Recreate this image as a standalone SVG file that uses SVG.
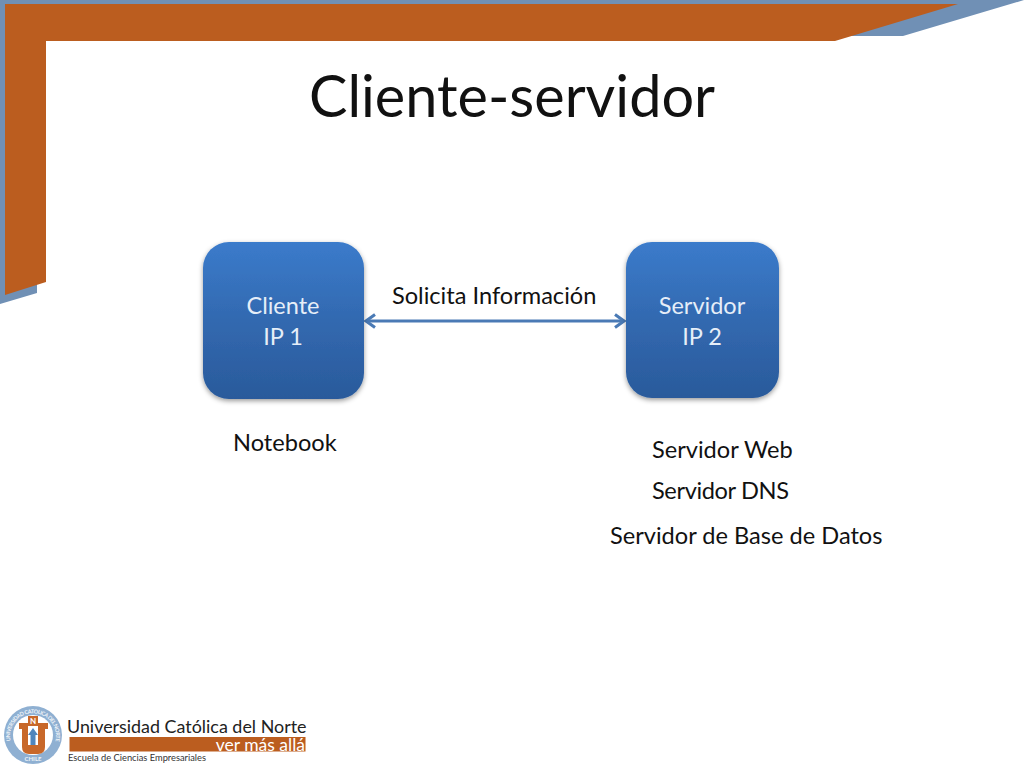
<svg xmlns="http://www.w3.org/2000/svg" width="1024" height="768" viewBox="0 0 1024 768">
<style>
.t{font-family:"Lato","Carlito","Open Sans",sans-serif}
.lab{font-size:23.600px;fill:#111}
.nt{font-size:23.500px;fill:#e6eef8;text-anchor:middle}
.box{fill:url(#g);filter:url(#s)}
.con{stroke:#4a7ab5;stroke-width:3;fill:none;marker-start:url(#as);marker-end:url(#ae)}
</style>
<defs>
<linearGradient id="g" x1="0" y1="0" x2="0" y2="1"><stop offset="0" stop-color="#3b7bcb"/><stop offset="0.5" stop-color="#3269b0"/><stop offset="1" stop-color="#2a5a9b"/></linearGradient>
<filter id="s" x="-10%" y="-10%" width="120%" height="120%"><feDropShadow dx="0" dy="2" stdDeviation="2.500" flood-color="#000" flood-opacity="0.4"/></filter>
<marker id="ae" markerUnits="userSpaceOnUse" markerWidth="14" markerHeight="16" refX="12" refY="8" orient="auto"><path d="M3 1.500L12 8L3 14.500" fill="none" stroke="#4a7ab5" stroke-width="3"/></marker>
<marker id="as" markerUnits="userSpaceOnUse" markerWidth="14" markerHeight="16" refX="2" refY="8" orient="auto"><path d="M11 1.500L2 8L11 14.500" fill="none" stroke="#4a7ab5" stroke-width="3"/></marker>
<path id="sealTop" d="M10.500 741A23 23 0 1 1 55.500 741"/>
</defs>
<rect width="1024" height="768" fill="#fff"/>
<g id="frame">
<polygon points="0,0 1024,0 903,36 37,36 37,293 0,304" fill="#7090b5"/>
<polygon points="5,4 958,4 835,41 46,41 46,282 5,295" fill="#bb5d1f"/>
</g>
<text id="title" class="t" x="512" y="117" font-size="57.600" fill="#111" text-anchor="middle">Cliente-servidor</text>
<g id="connectors">
<line class="con" x1="366" y1="321" x2="624" y2="321"/>
</g>
<g id="cliente">
<rect class="box" x="203" y="242" width="161" height="157" rx="26"/>
<text class="t nt" x="283" y="314">Cliente</text>
<text class="t nt" x="283" y="345">IP 1</text>
</g>
<g id="servidor">
<rect class="box" x="626" y="242" width="153" height="156" rx="26"/>
<text class="t nt" x="702" y="314">Servidor</text>
<text class="t nt" x="702" y="345">IP 2</text>
</g>
<text id="solicita" class="t lab" x="392" y="304">Solicita Información</text>
<text id="notebook" class="t lab" x="233" y="451">Notebook</text>
<text id="web" class="t lab" x="652" y="458">Servidor Web</text>
<text id="dns" class="t lab" x="652" y="499" textLength="137">Servidor DNS</text>
<text id="bd" class="t lab" x="610" y="544">Servidor de Base de Datos</text>
<g id="logo">
<circle cx="33" cy="735" r="29" fill="#8fb0d2"/>
<circle cx="33" cy="735" r="20" fill="#fff"/>
<text class="t" font-size="5.500" font-weight="700" fill="#eef3f8"><textPath href="#sealTop" textLength="82">UNIVERSIDAD CATOLICA DEL NORTE</textPath></text>
<text class="t" font-size="6" font-weight="700" fill="#eef3f8" x="33" y="761" text-anchor="middle">CHILE</text>
<path d="M19 723H28V745H38V723H48V729H45V747Q45 754 38 754H29Q22 754 22 747V729H19Z" fill="#c8682a"/>
<rect x="28" y="716" width="10" height="10" fill="#c8682a"/>
<text class="t" font-size="8" font-weight="700" fill="#fff" x="33" y="724" text-anchor="middle">N</text>
<path d="M33 728L38 735H35.500V745H30.500V735H28Z" fill="#4f86bd"/>
<text class="t" x="67" y="733" font-size="17.900" fill="#222">Universidad Católica del Norte</text>
<rect x="69.500" y="737" width="236" height="14.500" fill="#bb5d1f"/>
<text class="t" x="305" y="750.500" font-size="17.500" fill="#fff" text-anchor="end">ver más allá</text>
<text class="t" x="68" y="760.500" font-size="9.300" fill="#333">Escuela de Ciencias Empresariales</text>
</g>
</svg>
